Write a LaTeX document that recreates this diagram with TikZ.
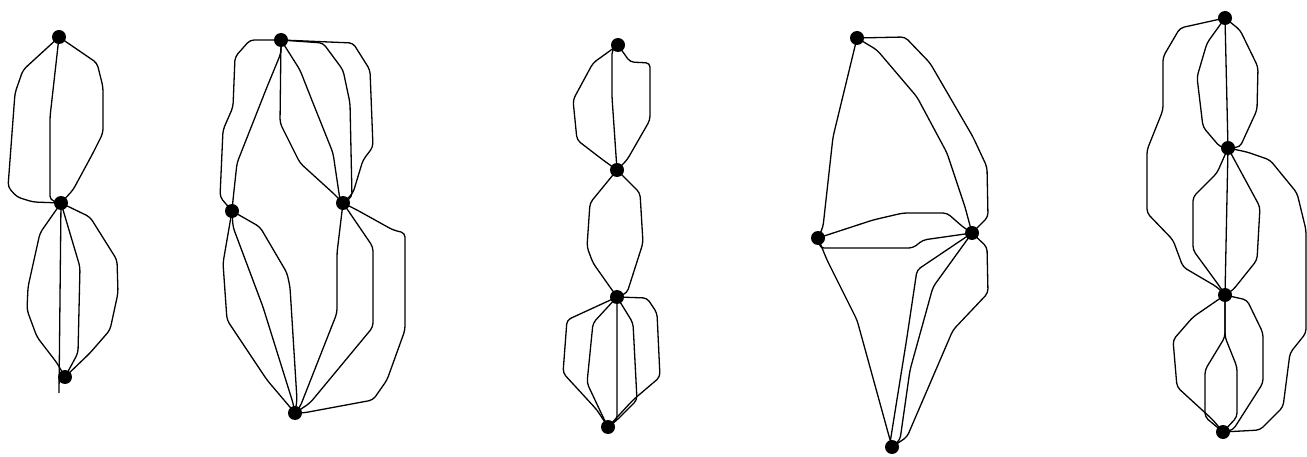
\documentclass[tikz,border=0pt]{standalone}
\begin{document}
\begin{tikzpicture}[x=1pt,y=-1pt,
  v/.style={circle,fill=black,inner sep=0pt,minimum size=14pt},
  edge/.style={draw=black,line width=1.3pt,rounded corners=4pt}]
\useasboundingbox (0,0) rectangle (1307,457);
% graph 1
\node[v] (a1) at (59,37) {};
\node[v] (b1) at (61,203) {};
\node[v] (c1) at (65,377) {};
\coordinate (c1t) at (59,393);
\draw[edge] (a1.center) -- (50,117) -- (50,200) -- (b1.center);
\draw[edge] (a1.center) -- (23,70) -- (15,93) -- (8,187) -- (17,197) -- (33,202) -- (b1.center);
\draw[edge] (a1.center) -- (97,63) -- (103,87) -- (103,133) -- (93,153) -- (73,190) -- (b1.center);
\draw[edge] (b1.center) -- (c1t);
\draw[edge] (b1.center) -- (40,233) -- (28,287) -- (27,310) -- (37,337) -- (57,363) -- (c1.center);
\draw[edge] (b1.center) -- (80,267) -- (78,353) -- (c1.center);
\draw[edge] (b1.center) -- (90,217) -- (117,260) -- (118,293) -- (110,330) -- (90,353) -- (c1.center);
% graph 2
\node[v] (t2) at (281,40) {};
\node[v] (l2) at (232,211) {};
\node[v] (r2) at (343,203) {};
\node[v] (b2) at (295,413) {};
\draw[edge] (t2.center) -- (250,40) -- (235,57) -- (233,107) -- (223,130) -- (220,197) -- (l2.center);
\draw[edge] (t2.center) -- (281,53) -- (267,87) -- (237,163) -- (233,200) -- (l2.center);
\draw[edge] (t2.center) -- (280,123) -- (300,163) -- (333,193) -- (r2.center);
\draw[edge] (t2.center) -- (300,70) -- (313,103) -- (333,153) -- (340,200) -- (r2.center);
\draw[edge] (t2.center) -- (323,43) -- (343,70) -- (350,103) -- (352,197) -- (r2.center);
\draw[edge] (t2.center) -- (353,43) -- (370,70) -- (373,147) -- (363,160) -- (353,193) -- (r2.center);
\draw[edge] (l2.center) -- (223,263) -- (227,320) -- (267,380) -- (b2.center);
\draw[edge] (l2.center) -- (233,227) -- (263,307) -- (293,403) -- (b2.center);
\draw[edge] (l2.center) -- (260,227) -- (287,273) -- (290,287) -- (297,400) -- (b2.center);
\draw[edge] (r2.center) -- (337,253) -- (337,313) -- (300,407) -- (b2.center);
\draw[edge] (r2.center) -- (373,247) -- (373,327) -- (310,403) -- (b2.center);
\draw[edge] (r2.center) -- (357,210) -- (393,230) -- (405,233) -- (405,330) -- (387,380) -- (373,400) -- (303,413) -- (b2.center);
% graph 3
\node[v] (v31) at (618,45) {};
\node[v] (v32) at (617,170) {};
\node[v] (v33) at (617,297) {};
\node[v] (v34) at (608,427) {};
\draw[edge] (v31.center) -- (612,50) -- (612,97) -- (v32.center);
\draw[edge] (v31.center) -- (593,63) -- (573,100) -- (577,140) -- (603,160) -- (v32.center);
\draw[edge] (v31.center) -- (630,62) -- (650,63) -- (650,120) -- (627,160) -- (v32.center);
\draw[edge] (v32.center) -- (590,203) -- (587,247) -- (593,263) -- (v33.center);
\draw[edge] (v32.center) -- (640,193) -- (643,243) -- (627,293) -- (v33.center);
\draw[edge] (v33.center) -- (567,320) -- (563,373) -- (597,410) -- (v34.center);
\draw[edge] (v33.center) -- (593,323) -- (587,383) -- (603,417) -- (v34.center);
\draw[edge] (v33.center) -- (617,420) -- (v34.center);
\draw[edge] (v33.center) -- (633,323) -- (637,400) -- (617,420) -- (v34.center);
\draw[edge] (v33.center) -- (647,298) -- (657,313) -- (660,377) -- (633,400) -- (v34.center);
% graph 4
\node[v] (t4) at (857,38) {};
\node[v] (l4) at (818,238) {};
\node[v] (r4) at (972,233) {};
\node[v] (b4) at (892,447) {};
\draw[edge] (t4.center) -- (833,137) -- (823,227) -- (l4.center);
\draw[edge] (t4.center) -- (877,50) -- (917,97) -- (947,153) -- (965,207) -- (r4.center);
\draw[edge] (t4.center) -- (905,37) -- (930,63) -- (973,137) -- (987,167) -- (988,217) -- (r4.center);
\draw[edge] (l4.center) -- (873,220) -- (903,213) -- (947,213) -- (963,227) -- (r4.center);
\draw[edge] (l4.center) -- (820,248) -- (913,248) -- (923,240) -- (r4.center);
\draw[edge] (l4.center) -- (827,260) -- (857,320) -- (b4.center);
\draw[edge] (r4.center) -- (917,270) -- (907,337) -- (890,443) -- (b4.center);
\draw[edge] (r4.center) -- (933,287) -- (910,370) -- (900,440) -- (b4.center);
\draw[edge] (r4.center) -- (987,247) -- (988,293) -- (953,330) -- (907,437) -- (b4.center);
% graph 5
\node[v] (v51) at (1225,18) {};
\node[v] (v52) at (1228,148) {};
\node[v] (v53) at (1225,295) {};
\node[v] (v54) at (1223,432) {};
\draw[edge] (v51.center) -- (v52.center);
\draw[edge] (v51.center) -- (1207,43) -- (1197,77) -- (1203,127) -- (1220,147) -- (v52.center);
\draw[edge] (v51.center) -- (1240,30) -- (1258,67) -- (1257,110) -- (1240,147) -- (v52.center);
\draw[edge] (v51.center) -- (1180,28) -- (1163,57) -- (1163,110) -- (1147,150) -- (1147,213) -- (1173,240) -- (1183,267) -- (1217,287) -- (v53.center);
\draw[edge] (v52.center) -- (v53.center);
\draw[edge] (v52.center) -- (1217,173) -- (1193,197) -- (1193,250) -- (1220,287) -- (v53.center);
\draw[edge] (v52.center) -- (1247,183) -- (1260,207) -- (1257,260) -- (1233,290) -- (v53.center);
\draw[edge] (v52.center) -- (1247,152) -- (1270,160) -- (1297,193) -- (1306,230) -- (1306,333) -- (1290,353) -- (1283,407) -- (1260,430) -- (v54.center);
\draw[edge] (v53.center) -- (1193,317) -- (1173,340) -- (1177,387) -- (1213,420) -- (v54.center);
\draw[edge] (v53.center) -- (1247,300) -- (1263,333) -- (1263,383) -- (1233,430) -- (v54.center);
\draw[edge] (v53.center) -- (1225,337) -- (1205,370) -- (1205,417) -- (v54.center);
\draw[edge] (v53.center) -- (1225,337) -- (1237,367) -- (1237,417) -- (v54.center);
\end{tikzpicture}
\end{document}
